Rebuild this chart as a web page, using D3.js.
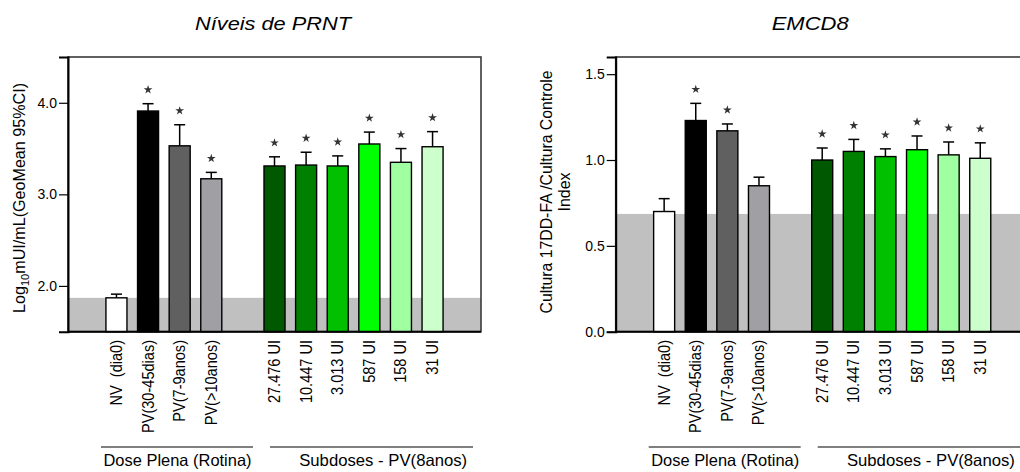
<!DOCTYPE html>
<html>
<head>
<meta charset="utf-8">
<script src="https://cdn.jsdelivr.net/npm/d3@7"></script>
<style>
  body { margin: 0; background: #fff; }
  svg { display: block; font-family: "Liberation Sans", Arial, sans-serif; }
</style>
</head>
<body>
<div id="chart"></div>
<script>
// categories (two groups, a blank slot between them)
const categories = ["NV  (dia0)", "PV(30-45dias)", "PV(7-9anos)", "PV(>10anos)",
                    "27.476 UI", "10.447 UI", "3.013 UI", "587 UI", "158 UI", "31 UI"];
const groupOf = [0, 0, 0, 0, 1, 1, 1, 1, 1, 1];
const groupNames = ["Dose Plena (Rotina)", "Subdoses - PV(8anos)"];
const barColors = ["#ffffff", "#000000", "#606060", "#a0a0a4",
                   "#005800", "#008000", "#00c000", "#00ff00", "#a0ffa0", "#ccffcc"];

// Níveis de PRNT (log10 mUI/mL, geomean + upper 95% CI)
const prntMean  = [1.87, 3.91, 3.53, 3.17, 3.31, 3.32, 3.31, 3.55, 3.35, 3.52];
const prntUpper = [1.91, 3.99, 3.76, 3.24, 3.41, 3.46, 3.42, 3.68, 3.50, 3.685];
const prntStar  = [false, true, true, true, true, true, true, true, true, true];
const prntRef   = 1.87;
const prntTicks = [2.0, 3.0, 4.0];

// EMCD8 index
const emcdMean  = [0.70, 1.23, 1.17, 0.85, 1.00, 1.05, 1.02, 1.06, 1.03, 1.01];
const emcdUpper = [0.775, 1.33, 1.21, 0.90, 1.07, 1.12, 1.065, 1.14, 1.105, 1.10];
const emcdStar  = [false, true, true, false, true, true, true, true, true, true];
const emcdRef   = 0.686;
const emcdTicks = [0.0, 0.5, 1.0, 1.5];

const width = 1020, height = 472;
const svg = d3.select("#chart").append("svg")
  .attr("width", width).attr("height", height);

let plotW = 413, plotTop = 57, plotBottom = 331.7;

// slots: group 0, a gap, group 1
let slots = [];
categories.forEach((c, i) => {
  if (i > 0 && groupOf[i] !== groupOf[i - 1]) slots.push("gap");
  slots.push("c" + i);
});

function drawPanel(o) {
  const g = svg.append("g").attr("transform", `translate(${o.x0},0)`);

  const x = d3.scaleBand()
    .domain(slots)
    .range([0, plotW])
    .paddingInner(0.335)
    .paddingOuter(1.2);
  const y = d3.scaleLinear().domain(o.domain).range([plotBottom, plotTop]);
  const bw = x.bandwidth();

  let data = categories.map((c, i) => ({
    key: "c" + i, label: c, mean: o.mean[i], upper: o.upper[i],
    star: o.star[i], color: barColors[i]
  }));

  // reference band
  g.append("rect")
    .attr("x", 0).attr("width", plotW)
    .attr("y", y(o.ref)).attr("height", plotBottom - y(o.ref))
    .attr("fill", "#c0c0c0");

  // frame
  g.append("rect")
    .attr("x", 0).attr("y", plotTop)
    .attr("width", plotW).attr("height", plotBottom - plotTop)
    .attr("fill", "none").attr("stroke", "#3a3a3a").attr("stroke-width", 1.6);

  // error bars
  let eb = g.selectAll(".err").data(data).enter().append("g").attr("class", "err")
    .attr("stroke", "#000").attr("stroke-width", 1.5);
  eb.append("line")
    .attr("x1", d => x(d.key) + bw / 2).attr("x2", d => x(d.key) + bw / 2)
    .attr("y1", d => y(d.mean)).attr("y2", d => y(d.upper));
  eb.append("line")
    .attr("x1", d => x(d.key) + bw / 2 - 5.5).attr("x2", d => x(d.key) + bw / 2 + 5.5)
    .attr("y1", d => y(d.upper)).attr("y2", d => y(d.upper));

  // bars
  g.selectAll(".bar").data(data).enter().append("rect")
    .attr("class", "bar")
    .attr("x", d => x(d.key)).attr("width", bw)
    .attr("y", d => y(d.mean)).attr("height", d => plotBottom - y(d.mean))
    .attr("fill", d => d.color)
    .attr("stroke", "#000").attr("stroke-width", 1.4);

  // stars
  g.selectAll(".star").data(data.filter(d => d.star)).enter().append("path")
    .attr("class", "star")
    .attr("d", d3.symbol().type(d3.symbolStar).size(24))
    .attr("transform", d => `translate(${x(d.key) + bw / 2},${y(d.upper) - 14})`)
    .attr("fill", "#333");

  // y axis
  let ya = g.append("g")
    .call(d3.axisLeft(y).tickValues(o.ticks).tickFormat(d3.format(".1f"))
      .tickSize(9).tickPadding(2));
  ya.select(".domain").attr("stroke", "#000").attr("stroke-width", 2);
  ya.selectAll(".tick line").attr("stroke", "#000").attr("stroke-width", 1.2);
  ya.selectAll(".tick text").attr("font-size", 14).attr("fill", "#000")
    .attr("font-family", "Liberation Sans, Arial, sans-serif");

  // x baseline
  g.append("line")
    .attr("x1", 0).attr("x2", plotW).attr("y1", plotBottom).attr("y2", plotBottom)
    .attr("stroke", "#000").attr("stroke-width", 2);

  // category labels (rotated)
  g.selectAll(".cat").data(data).enter().append("text")
    .attr("class", "cat")
    .attr("transform", d => `translate(${x(d.key) + bw / 2 + 5.5},340) rotate(-90) scale(0.91,1)`)
    .attr("text-anchor", "end")
    .attr("font-size", 16)
    .attr("xml:space", "preserve")
    .text(d => d.label);

  // group lines and labels
  const gLines = [[33, 185], [202, 405]];
  const gText = [[109.5, 148], [315.2, 168]];
  groupNames.forEach((name, i) => {
    g.append("line")
      .attr("x1", gLines[i][0]).attr("x2", gLines[i][1])
      .attr("y1", 447).attr("y2", 447)
      .attr("stroke", "#000").attr("stroke-width", 1.2);
    g.append("text")
      .attr("x", gText[i][0]).attr("y", 466)
      .attr("text-anchor", "middle")
      .attr("font-size", 16.5)
      .attr("textLength", gText[i][1]).attr("lengthAdjust", "spacingAndGlyphs")
      .text(name);
  });

  // title
  g.append("text")
    .attr("x", o.titleX).attr("y", 30)
    .attr("text-anchor", "middle")
    .attr("font-size", 18).attr("font-style", "italic")
    .attr("textLength", o.titleLen).attr("lengthAdjust", "spacingAndGlyphs")
    .text(o.title);

  return g;
}

let left = drawPanel({
  x0: 68, domain: [1.5, 4.5], ticks: prntTicks,
  mean: prntMean, upper: prntUpper, star: prntStar, ref: prntRef,
  title: "Níveis de PRNT", titleX: 205, titleLen: 156
});

let right = drawPanel({
  x0: 615.7, domain: [0, 1.6], ticks: emcdTicks,
  mean: emcdMean, upper: emcdUpper, star: emcdStar, ref: emcdRef,
  title: "EMCD8", titleX: 194.5, titleLen: 77
});

// y axis titles
let lt = svg.append("text")
  .attr("transform", "translate(25,198) rotate(-90)")
  .attr("text-anchor", "middle")
  .attr("font-size", 16)
  .attr("textLength", 230).attr("lengthAdjust", "spacingAndGlyphs");
lt.append("tspan").text("Log");
lt.append("tspan").attr("font-size", 11).attr("dy", 4).text("10");
lt.append("tspan").attr("dy", -4).text("mUI/mL(GeoMean  95%CI)");

let rt = svg.append("text")
  .attr("transform", "translate(552,192) rotate(-90)")
  .attr("text-anchor", "middle")
  .attr("font-size", 16);
rt.append("tspan").attr("x", 0)
  .attr("textLength", 243).attr("lengthAdjust", "spacingAndGlyphs")
  .text("Cultura 17DD-FA /Cultura Controle");
rt.append("tspan").attr("x", 0).attr("dy", 17.7).text("Index");
</script>
</body>
</html>
